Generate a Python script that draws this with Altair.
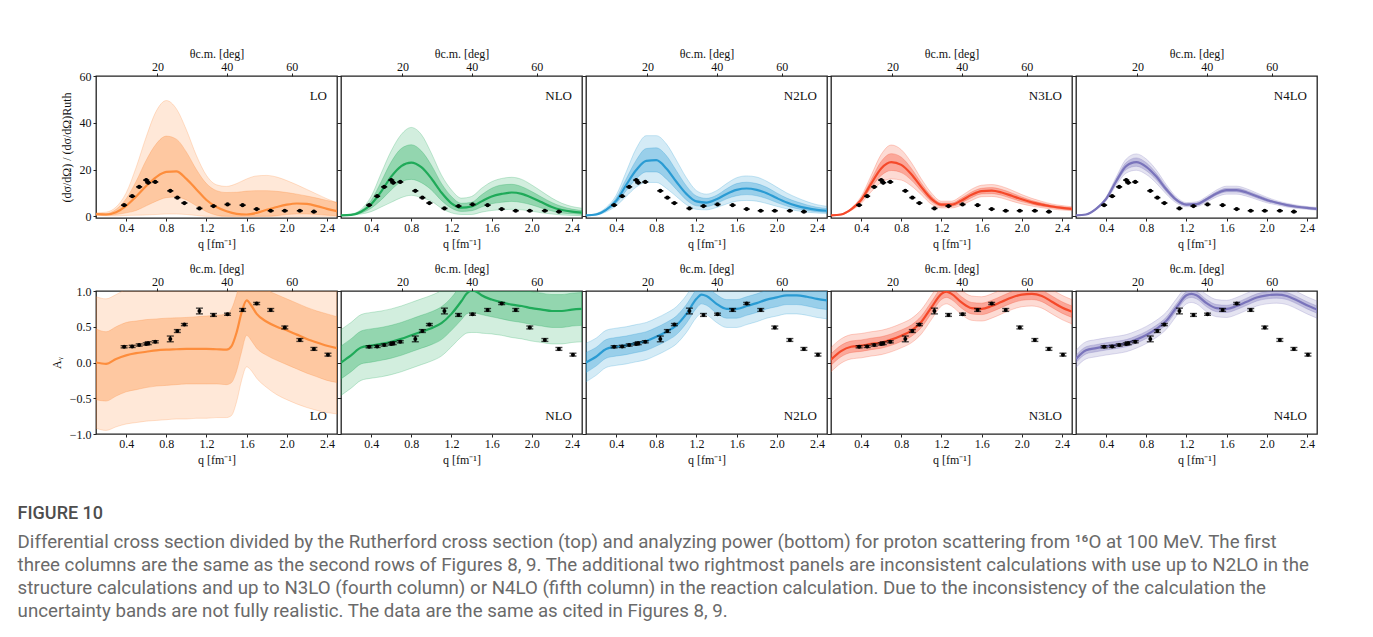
import math
import altair as alt
import pandas as pd

FONT = "Liberation Serif"
CAP_FONT = "Roboto"

# ---------------- q grid for the calculated curves ----------------
Q25 = [0.1, 0.2, 0.3, 0.4, 0.5, 0.6, 0.7, 0.8, 0.9, 1.0, 1.1, 1.2, 1.3,
       1.4, 1.5, 1.6, 1.7, 1.8, 1.9, 2.0, 2.1, 2.2, 2.3, 2.4, 2.5]

# ---------------- cross section ratio (top row) ----------------
lo_xs_c = [1.0, 0.8, 1.8, 4.5, 8.5, 13.0, 16.8, 19.0, 19.2, 16.0, 11.5, 7.0, 4.0, 2.2, 1.1, 0.8, 1.5, 2.8, 4.0, 5.0, 5.5, 5.3, 4.4, 3.2, 2.2]
lo_xs_ih = [1.2, 1.2, 3.0, 7.5, 15.0, 24.0, 31.0, 34.3, 33.0, 27.5, 20.0, 14.0, 11.0, 10.2, 10.3, 10.8, 11.0, 11.0, 10.7, 10.2, 9.5, 8.7, 7.8, 6.8, 6.0]
lo_xs_il = [0.8, 0.5, 0.8, 1.5, 2.5, 4.5, 6.5, 8.0, 8.3, 7.0, 4.5, 2.0, 0.5, 0.0, 0.0, 0.0, 0.0, 0.0, 0.3, 0.8, 1.0, 1.0, 0.8, 0.5, 0.3]
lo_xs_oh = [1.5, 1.8, 4.0, 10.0, 21.0, 34.0, 45.0, 49.5, 46.0, 37.0, 26.0, 17.5, 13.5, 12.8, 14.0, 16.0, 17.3, 17.5, 16.8, 15.3, 13.5, 11.5, 9.5, 7.5, 5.8]
lo_xs_ol = [0.5, 0.3, 0.2, 0.4, 0.5, 0.6, 0.8, 1.0, 1.0, 0.8, 0.4, 0.0, 0.0, 0.0, 0.0, 0.0, 0.0, 0.0, 0.0, 0.0, 0.0, 0.0, 0.0, 0.0, 0.0]

nlo_xs_c = [0.4, 0.6, 2.0, 5.2, 10.6, 17.0, 21.5, 23.0, 21.0, 16.2, 10.2, 5.6, 3.7, 4.2, 6.4, 8.5, 9.6, 10.2, 9.6, 8.0, 6.0, 4.0, 2.7, 2.0, 1.6]
nlo_xs_ih = [0.45, 0.8, 2.5, 6.8, 14.8, 23.3, 29.0, 30.6, 28.0, 21.9, 14.1, 8.5, 5.6, 6.0, 9.2, 12.0, 13.4, 13.7, 12.7, 10.6, 8.2, 5.9, 4.2, 3.1, 2.5]
nlo_xs_il = [0.35, 0.5, 1.4, 3.5, 7.0, 11.3, 14.8, 15.8, 14.4, 11.3, 6.8, 3.5, 2.1, 2.4, 4.0, 5.4, 6.0, 6.4, 5.9, 4.9, 3.5, 2.3, 1.4, 1.1, 0.8]
nlo_xs_oh = [0.5, 0.9, 3.0, 8.5, 18.4, 28.0, 35.0, 38.0, 35.0, 27.0, 17.7, 11.3, 7.8, 8.5, 12.0, 14.8, 16.2, 16.7, 15.8, 13.4, 10.6, 7.8, 5.6, 4.2, 3.5]
nlo_xs_ol = [0.3, 0.5, 1.0, 2.0, 4.0, 6.0, 8.0, 9.0, 8.0, 6.5, 3.5, 1.5, 0.8, 0.8, 1.8, 2.5, 2.8, 3.0, 2.8, 2.2, 1.5, 1.0, 0.6, 0.4, 0.3]

n2lo_xs_c = [0.4, 0.8, 2.8, 6.6, 13.4, 19.8, 23.7, 24.0, 20.5, 14.8, 9.6, 6.4, 5.9, 7.3, 9.6, 11.3, 11.9, 11.3, 9.9, 7.8, 5.9, 4.5, 3.5, 2.8, 2.4]
n2lo_xs_ih = [0.4, 1.0, 3.2, 7.8, 16.0, 24.0, 29.0, 29.3, 26.0, 19.5, 13.0, 8.7, 7.7, 9.0, 11.8, 14.0, 14.6, 14.0, 12.4, 10.0, 7.8, 6.2, 4.9, 3.9, 3.4]
n2lo_xs_il = [0.3, 0.7, 2.4, 5.5, 11.0, 16.0, 19.0, 19.0, 16.0, 11.5, 7.0, 4.5, 4.2, 5.5, 7.5, 8.8, 9.3, 8.8, 7.6, 5.9, 4.4, 3.3, 2.5, 2.0, 1.7]
n2lo_xs_oh = [0.5, 1.2, 3.8, 9.0, 19.0, 29.0, 34.5, 34.5, 31.0, 24.0, 16.5, 11.0, 9.5, 11.0, 14.0, 16.5, 17.3, 16.8, 15.0, 12.5, 10.0, 8.0, 6.3, 5.0, 4.3]
n2lo_xs_ol = [0.2, 0.5, 1.9, 4.5, 8.5, 12.5, 14.5, 14.5, 12.0, 8.5, 5.0, 3.0, 2.8, 3.8, 5.3, 6.5, 6.8, 6.5, 5.5, 4.3, 3.2, 2.4, 1.8, 1.4, 1.2]

n3lo_xs_c = [0.4, 0.8, 3.0, 7.0, 14.0, 20.5, 23.2, 22.0, 18.0, 12.5, 7.5, 5.0, 5.0, 6.8, 9.2, 10.8, 11.0, 10.2, 8.8, 7.3, 6.0, 5.0, 4.2, 3.6, 3.2]
n3lo_xs_ih = [0.45, 0.9, 3.2, 7.7, 15.7, 23.5, 26.8, 25.3, 20.5, 14.2, 8.7, 5.7, 5.7, 7.8, 10.4, 12.0, 12.3, 11.5, 10.0, 8.3, 6.8, 5.7, 4.7, 4.1, 3.6]
n3lo_xs_il = [0.35, 0.7, 2.8, 6.3, 12.3, 17.5, 19.6, 18.7, 15.5, 10.8, 6.3, 4.3, 4.3, 5.8, 8.0, 9.6, 9.7, 9.0, 7.6, 6.3, 5.2, 4.3, 3.7, 3.1, 2.8]
n3lo_xs_oh = [0.5, 1.0, 3.5, 8.5, 17.5, 26.5, 30.5, 28.5, 23.0, 16.0, 10.0, 6.5, 6.5, 8.8, 11.6, 13.3, 13.6, 12.8, 11.2, 9.3, 7.7, 6.4, 5.3, 4.6, 4.1]
n3lo_xs_ol = [0.3, 0.6, 2.5, 5.5, 10.5, 14.5, 16.0, 15.5, 13.0, 9.2, 5.2, 3.6, 3.6, 4.8, 6.8, 8.4, 8.5, 7.8, 6.5, 5.3, 4.4, 3.7, 3.1, 2.7, 2.4]

n4lo_xs_c = [0.4, 0.8, 3.2, 7.5, 15.0, 21.5, 23.2, 21.2, 17.0, 11.5, 7.0, 5.0, 5.2, 7.3, 9.8, 11.2, 11.2, 10.2, 8.6, 7.0, 5.8, 4.8, 4.1, 3.6, 3.2]
n4lo_xs_ih = [0.42, 0.85, 3.4, 7.9, 15.9, 23.0, 25.0, 22.9, 18.4, 12.5, 7.6, 5.4, 5.7, 7.9, 10.5, 12.0, 12.0, 11.0, 9.3, 7.6, 6.2, 5.2, 4.4, 3.9, 3.5]
n4lo_xs_il = [0.38, 0.75, 3.0, 7.1, 14.1, 20.0, 21.4, 19.5, 15.6, 10.5, 6.4, 4.6, 4.7, 6.7, 9.1, 10.4, 10.4, 9.4, 7.9, 6.4, 5.4, 4.4, 3.8, 3.3, 2.9]
n4lo_xs_oh = [0.45, 0.9, 3.6, 8.3, 16.8, 24.5, 26.7, 24.5, 19.8, 13.5, 8.3, 5.9, 6.2, 8.5, 11.3, 12.9, 12.9, 11.8, 10.0, 8.2, 6.7, 5.6, 4.8, 4.2, 3.8]
n4lo_xs_ol = [0.35, 0.7, 2.8, 6.7, 13.2, 18.5, 19.7, 17.9, 14.2, 9.5, 5.7, 4.1, 4.2, 6.1, 8.3, 9.5, 9.5, 8.6, 7.2, 5.8, 4.9, 4.0, 3.4, 3.0, 2.6]

# ---------------- analyzing power (bottom row) ----------------
lo_ay_q = [0.1, 0.2, 0.3, 0.4, 0.5, 0.6, 0.7, 0.8, 0.9, 1.0, 1.1, 1.2, 1.3, 1.4, 1.45, 1.5, 1.55, 1.6, 1.65, 1.7, 1.8, 1.9, 2.0, 2.1, 2.2, 2.3, 2.4, 2.5]
lo_ay_c = [0.0, -0.02, 0.05, 0.10, 0.13, 0.15, 0.17, 0.18, 0.185, 0.19, 0.19, 0.19, 0.185, 0.18, 0.23, 0.42, 0.70, 0.87, 0.79, 0.68, 0.57, 0.50, 0.45, 0.39, 0.33, 0.28, 0.235, 0.20]
lo_ay_ih = [0.47, 0.43, 0.50, 0.56, 0.58, 0.60, 0.61, 0.62, 0.625, 0.63, 0.64, 0.65, 0.66, 0.68, 0.75, 0.95, 1.20, 1.30, 1.25, 1.15, 1.02, 0.95, 0.89, 0.83, 0.77, 0.72, 0.68, 0.64]
lo_ay_il = [-0.52, -0.54, -0.47, -0.41, -0.38, -0.35, -0.33, -0.32, -0.31, -0.30, -0.30, -0.30, -0.30, -0.31, -0.28, -0.12, 0.15, 0.38, 0.30, 0.20, 0.10, 0.03, -0.03, -0.09, -0.15, -0.20, -0.25, -0.28]
lo_ay_oh = [0.92, 0.89, 0.95, 1.02, 1.04, 1.06, 1.07, 1.08, 1.09, 1.10, 1.10, 1.10, 1.10, 1.12, 1.20, 1.40, 1.60, 1.75, 1.70, 1.60, 1.48, 1.40, 1.34, 1.28, 1.22, 1.17, 1.12, 1.08]
lo_ay_ol = [-0.92, -0.95, -0.90, -0.86, -0.84, -0.82, -0.81, -0.80, -0.79, -0.79, -0.78, -0.78, -0.77, -0.77, -0.74, -0.55, -0.25, -0.06, -0.12, -0.22, -0.35, -0.45, -0.52, -0.58, -0.63, -0.67, -0.70, -0.72]

nlo_ay_q = [0.1, 0.2, 0.3, 0.4, 0.5, 0.6, 0.7, 0.8, 0.9, 1.0, 1.1, 1.2, 1.3, 1.35, 1.4, 1.45, 1.5, 1.6, 1.7, 1.8, 1.9, 2.0, 2.1, 2.2, 2.3, 2.4, 2.5]
nlo_ay_c = [0.0, 0.10, 0.21, 0.235, 0.26, 0.29, 0.33, 0.38, 0.43, 0.48, 0.55, 0.68, 0.86, 0.96, 1.01, 0.99, 0.94, 0.88, 0.84, 0.81, 0.79, 0.76, 0.74, 0.72, 0.72, 0.74, 0.75]
nlo_ay_ih = [0.23, 0.33, 0.44, 0.47, 0.49, 0.52, 0.56, 0.61, 0.66, 0.71, 0.78, 0.91, 1.10, 1.21, 1.27, 1.25, 1.19, 1.12, 1.07, 1.04, 1.02, 0.99, 0.97, 0.95, 0.95, 0.97, 0.98]
nlo_ay_il = [-0.23, -0.13, -0.02, 0.005, 0.03, 0.06, 0.10, 0.15, 0.20, 0.25, 0.32, 0.45, 0.60, 0.68, 0.70, 0.69, 0.67, 0.64, 0.61, 0.58, 0.56, 0.53, 0.51, 0.49, 0.49, 0.51, 0.52]
nlo_ay_oh = [0.46, 0.56, 0.67, 0.70, 0.72, 0.75, 0.79, 0.84, 0.89, 0.94, 1.01, 1.14, 1.34, 1.45, 1.52, 1.50, 1.44, 1.36, 1.30, 1.27, 1.25, 1.22, 1.20, 1.18, 1.18, 1.20, 1.21]
nlo_ay_ol = [-0.46, -0.36, -0.25, -0.22, -0.20, -0.17, -0.13, -0.08, -0.03, 0.02, 0.09, 0.22, 0.36, 0.41, 0.42, 0.42, 0.41, 0.40, 0.38, 0.35, 0.33, 0.30, 0.28, 0.26, 0.26, 0.28, 0.29]

Q26 = [0.1, 0.2, 0.3, 0.4, 0.5, 0.6, 0.7, 0.8, 0.9, 1.0, 1.1, 1.2, 1.25, 1.3, 1.4, 1.5, 1.6, 1.7, 1.8, 1.9, 2.0, 2.1, 2.2, 2.3, 2.4, 2.5]

n2lo_ay_c = [0.0, 0.08, 0.19, 0.22, 0.24, 0.27, 0.30, 0.36, 0.43, 0.52, 0.68, 0.89, 0.95, 0.93, 0.82, 0.75, 0.75, 0.79, 0.83, 0.88, 0.91, 0.94, 0.94, 0.92, 0.89, 0.87]
n2lo_ay_ih = [0.14, 0.21, 0.32, 0.35, 0.37, 0.40, 0.43, 0.49, 0.56, 0.65, 0.81, 1.02, 1.08, 1.06, 0.95, 0.88, 0.88, 0.92, 0.96, 1.01, 1.04, 1.07, 1.07, 1.05, 1.02, 1.00]
n2lo_ay_il = [-0.14, -0.05, 0.06, 0.09, 0.11, 0.14, 0.17, 0.23, 0.30, 0.39, 0.55, 0.76, 0.82, 0.80, 0.69, 0.62, 0.62, 0.66, 0.70, 0.75, 0.78, 0.81, 0.81, 0.79, 0.76, 0.74]
n2lo_ay_oh = [0.27, 0.34, 0.45, 0.48, 0.50, 0.53, 0.56, 0.62, 0.69, 0.78, 0.94, 1.15, 1.21, 1.19, 1.08, 1.01, 1.01, 1.05, 1.09, 1.14, 1.17, 1.20, 1.20, 1.18, 1.15, 1.13]
n2lo_ay_ol = [-0.27, -0.18, -0.07, -0.04, -0.02, 0.01, 0.04, 0.10, 0.17, 0.26, 0.42, 0.63, 0.69, 0.67, 0.56, 0.49, 0.49, 0.53, 0.57, 0.62, 0.65, 0.68, 0.68, 0.66, 0.63, 0.61]

n3lo_ay_c = [0.04, 0.16, 0.22, 0.235, 0.26, 0.28, 0.32, 0.375, 0.445, 0.57, 0.77, 0.96, 0.99, 0.96, 0.84, 0.76, 0.75, 0.79, 0.85, 0.91, 0.95, 0.96, 0.93, 0.85, 0.77, 0.71]
n3lo_ay_ih = [0.12, 0.24, 0.30, 0.315, 0.34, 0.36, 0.40, 0.455, 0.525, 0.65, 0.85, 1.04, 1.07, 1.04, 0.92, 0.84, 0.83, 0.87, 0.93, 0.99, 1.03, 1.04, 1.01, 0.93, 0.85, 0.79]
n3lo_ay_il = [-0.04, 0.08, 0.14, 0.155, 0.18, 0.20, 0.24, 0.295, 0.365, 0.49, 0.69, 0.88, 0.91, 0.88, 0.76, 0.68, 0.67, 0.71, 0.77, 0.83, 0.87, 0.88, 0.85, 0.77, 0.69, 0.63]
n3lo_ay_oh = [0.21, 0.33, 0.39, 0.405, 0.43, 0.45, 0.49, 0.545, 0.615, 0.74, 0.94, 1.13, 1.16, 1.13, 1.01, 0.93, 0.92, 0.96, 1.02, 1.08, 1.12, 1.13, 1.10, 1.02, 0.94, 0.88]
n3lo_ay_ol = [-0.13, -0.01, 0.05, 0.065, 0.09, 0.11, 0.15, 0.205, 0.275, 0.40, 0.60, 0.79, 0.82, 0.79, 0.67, 0.59, 0.58, 0.62, 0.68, 0.74, 0.78, 0.79, 0.76, 0.68, 0.60, 0.54]

n4lo_ay_c = [0.05, 0.17, 0.20, 0.225, 0.245, 0.27, 0.32, 0.385, 0.47, 0.585, 0.77, 0.94, 0.96, 0.94, 0.83, 0.76, 0.75, 0.79, 0.85, 0.91, 0.94, 0.95, 0.93, 0.87, 0.80, 0.74]
n4lo_ay_ih = [0.10, 0.22, 0.25, 0.275, 0.295, 0.32, 0.37, 0.435, 0.52, 0.635, 0.82, 0.99, 1.01, 0.99, 0.88, 0.81, 0.80, 0.84, 0.90, 0.96, 0.99, 1.00, 0.98, 0.92, 0.85, 0.79]
n4lo_ay_il = [0.00, 0.12, 0.15, 0.175, 0.195, 0.22, 0.27, 0.335, 0.42, 0.535, 0.72, 0.89, 0.91, 0.89, 0.78, 0.71, 0.70, 0.74, 0.80, 0.86, 0.89, 0.90, 0.88, 0.82, 0.75, 0.69]
n4lo_ay_oh = [0.17, 0.29, 0.32, 0.345, 0.365, 0.39, 0.44, 0.505, 0.59, 0.705, 0.89, 1.06, 1.08, 1.06, 0.95, 0.88, 0.87, 0.91, 0.97, 1.03, 1.06, 1.07, 1.05, 0.99, 0.92, 0.86]
n4lo_ay_ol = [-0.07, 0.05, 0.08, 0.105, 0.125, 0.15, 0.20, 0.265, 0.35, 0.465, 0.65, 0.82, 0.84, 0.82, 0.71, 0.64, 0.63, 0.67, 0.73, 0.79, 0.82, 0.83, 0.81, 0.75, 0.68, 0.62]

# ---------------- experimental data ----------------
data_q = [0.38, 0.46, 0.53, 0.60, 0.62, 0.69, 0.84, 0.91, 0.98, 1.13, 1.27, 1.41, 1.56, 1.70, 1.84, 1.98, 2.13, 2.27, 2.41]
xs_vals = [4.8, 8.6, 12.6, 15.5, 14.4, 14.7, 10.9, 8.0, 5.7, 3.4, 4.4, 5.1, 4.8, 3.1, 2.4, 2.4, 2.4, 2.0]
xs_qerr = [0.03, 0.03, 0.03, 0.03, 0.03, 0.03, 0.03, 0.03, 0.03, 0.03, 0.03, 0.03, 0.03, 0.03, 0.03, 0.03, 0.03, 0.03]
xs_err = [0.6, 0.6, 0.7, 0.8, 0.8, 0.7, 0.6, 0.5, 0.4, 0.3, 0.3, 0.3, 0.3, 0.3, 0.3, 0.3, 0.3, 0.3]
ay_vals = [0.22, 0.225, 0.245, 0.26, 0.27, 0.29, 0.33, 0.44, 0.53, 0.72, 0.665, 0.675, 0.735, 0.825, 0.735, 0.49, 0.315, 0.19, 0.11]
ay_err = [0.015, 0.015, 0.015, 0.015, 0.02, 0.015, 0.04, 0.02, 0.015, 0.04, 0.02, 0.015, 0.02, 0.015, 0.02, 0.02, 0.02, 0.02, 0.02]

# ---------------- labels / styling ----------------
orders = ["LO", "NLO", "N2LO", "N3LO", "N4LO"]
colors = ["#fd8d3c", "#1faa59", "#2a9bd3", "#f5492a", "#7a74bb"]
q_ticks = [0.4, 0.8, 1.2, 1.6, 2.0, 2.4]
theta_ticks = [20, 40, 60]
theta_q = [4.1 * math.sin(math.radians(t / 2.0)) for t in theta_ticks]

caption_head = "FIGURE 10"
caption_lines = [
    "Differential cross section divided by the Rutherford cross section (top) and analyzing power (bottom) for proton scattering from \u00b9\u2076O at 100 MeV. The first",
    "three columns are the same as the second rows of Figures 8, 9. The additional two rightmost panels are inconsistent calculations with use up to N2LO in the",
    "structure calculations and up to N3LO (fourth column) or N4LO (fifth column) in the reaction calculation. Due to the inconsistency of the calculation the",
    "uncertainty bands are not fully realistic. The data are the same as cited in Figures 8, 9.",
]

xs_sets = [
    (Q25, lo_xs_c, lo_xs_il, lo_xs_ih, lo_xs_ol, lo_xs_oh),
    (Q25, nlo_xs_c, nlo_xs_il, nlo_xs_ih, nlo_xs_ol, nlo_xs_oh),
    (Q25, n2lo_xs_c, n2lo_xs_il, n2lo_xs_ih, n2lo_xs_ol, n2lo_xs_oh),
    (Q25, n3lo_xs_c, n3lo_xs_il, n3lo_xs_ih, n3lo_xs_ol, n3lo_xs_oh),
    (Q25, n4lo_xs_c, n4lo_xs_il, n4lo_xs_ih, n4lo_xs_ol, n4lo_xs_oh),
]
ay_sets = [
    (lo_ay_q, lo_ay_c, lo_ay_il, lo_ay_ih, lo_ay_ol, lo_ay_oh),
    (nlo_ay_q, nlo_ay_c, nlo_ay_il, nlo_ay_ih, nlo_ay_ol, nlo_ay_oh),
    (Q26, n2lo_ay_c, n2lo_ay_il, n2lo_ay_ih, n2lo_ay_ol, n2lo_ay_oh),
    (Q26, n3lo_ay_c, n3lo_ay_il, n3lo_ay_ih, n3lo_ay_ol, n3lo_ay_oh),
    (Q26, n4lo_ay_c, n4lo_ay_il, n4lo_ay_ih, n4lo_ay_ol, n4lo_ay_oh),
]

xs_df = pd.DataFrame({"q": data_q[:len(xs_vals)], "v": xs_vals})
xs_df["qlo"] = xs_df["q"] - pd.Series(xs_qerr)
xs_df["qhi"] = xs_df["q"] + pd.Series(xs_qerr)
xs_df["vlo"] = xs_df["v"] - pd.Series(xs_err)
xs_df["vhi"] = xs_df["v"] + pd.Series(xs_err)

ay_df = pd.DataFrame({"q": data_q, "v": ay_vals})
ay_df["vlo"] = ay_df["v"] - pd.Series(ay_err)
ay_df["vhi"] = ay_df["v"] + pd.Series(ay_err)

XSCALE = alt.Scale(domain=[0.1, 2.5], nice=False, zero=False)


def panel(curve, color, label, kind, first, width, height):
    q, c, il, ih, ol, oh = curve
    df = pd.DataFrame({"q": q, "c": c, "il": il, "ih": ih, "ol": ol, "oh": oh})
    if kind == "xs":
        ys = alt.Scale(domain=[-0.7, 60], nice=False, zero=False)
        yvals, yfmt = [0, 20, 40, 60], "d"
        ytitle = "(d\u03c3/d\u03a9) / (d\u03c3/d\u03a9)Ruth"
    else:
        ys = alt.Scale(domain=[-1, 1], nice=False, zero=False)
        yvals, yfmt = [-1.0, -0.5, 0.0, 0.5, 1.0], ".1f"
        ytitle = "A\u1d67"
    if first:
        yaxis = alt.Axis(values=yvals, format=yfmt, title=ytitle, tickSize=3,
                         labelPadding=2, titlePadding=6)
    else:
        yaxis = alt.Axis(values=yvals, labels=False, title=None, tickSize=4)
    xaxis = alt.Axis(values=q_ticks, format=".1f", title="q [fm\u207b\u00b9]",
                     tickSize=3, labelPadding=1, titlePadding=5)
    taxis = alt.Axis(orient="top", values=theta_q, tickSize=3, labelPadding=0,
                     labelExpr="format(2*asin(datum.value/4.1)*180/PI, '.0f')",
                     title="\u03b8c.m. [deg]", titlePadding=0)

    def X(field, axis=None):
        return alt.X(field, type="quantitative", scale=XSCALE, axis=axis)

    def Y(field):
        return alt.Y(field, type="quantitative", scale=ys, axis=yaxis)

    base = alt.Chart(df)
    outer = base.mark_area(color=color, fillOpacity=0.2, stroke=color,
                           strokeOpacity=0.35, strokeWidth=0.7,
                           interpolate="monotone", clip=True).encode(
        x=X("q", xaxis), y=Y("ol"), y2="oh:Q")
    inner = base.mark_area(color=color, fillOpacity=0.35, stroke=color,
                           strokeOpacity=0.4, strokeWidth=0.7,
                           interpolate="monotone", clip=True).encode(
        x=X("q"), y=Y("il"), y2="ih:Q")
    line = base.mark_line(color=color, strokeWidth=2.2, interpolate="monotone",
                          clip=True).encode(x=X("q"), y=Y("c"))
    top = base.mark_line(opacity=0).encode(x=X("q", taxis), y=Y("c"))

    layers = [outer, inner, line]
    if kind == "xs":
        pts = alt.Chart(xs_df)
        layers += [
            pts.mark_rule(color="black", strokeWidth=1.6).encode(
                x=X("qlo"), x2="qhi:Q", y=Y("v")),
            pts.mark_rule(color="black", strokeWidth=1.2).encode(
                x=X("q"), y=Y("vlo"), y2="vhi:Q"),
            pts.mark_circle(color="black", size=18, opacity=1).encode(
                x=X("q"), y=Y("v")),
        ]
        ly = 20
    else:
        pts = alt.Chart(ay_df)
        layers += [
            pts.mark_rule(color="black", strokeWidth=1.4).encode(
                x=X("q"), y=Y("vlo"), y2="vhi:Q"),
            pts.mark_tick(color="black", orient="horizontal", size=7,
                          thickness=1.4).encode(x=X("q"), y=Y("vlo")),
            pts.mark_tick(color="black", orient="horizontal", size=7,
                          thickness=1.4).encode(x=X("q"), y=Y("vhi")),
            pts.mark_circle(color="black", size=16, opacity=1).encode(
                x=X("q"), y=Y("v")),
        ]
        ly = height - 18
    lab = alt.Chart(pd.DataFrame({"t": [label]})).mark_text(
        font=FONT, fontSize=13, align="right", baseline="middle",
        color="#111").encode(x=alt.value(width - 10), y=alt.value(ly),
                             text="t:N")
    layers += [lab, top]
    return alt.layer(*layers).resolve_axis(x="independent").properties(
        width=width, height=height)


top_row = alt.hconcat(*[
    panel(xs_sets[i], colors[i], orders[i], "xs", i == 0, 241, 142)
    for i in range(5)], spacing=4, bounds="flush")
bottom_row = alt.hconcat(*[
    panel(ay_sets[i], colors[i], orders[i], "ay", i == 0, 241, 143)
    for i in range(5)], spacing=4, bounds="flush")

chart = alt.vconcat(top_row, bottom_row, spacing=11).properties(
    title=alt.TitleParams(
        text=caption_head, subtitle=caption_lines, orient="bottom",
        anchor="start", dx=-32, offset=39, font=CAP_FONT, fontSize=18,
        fontWeight=500, color="#4d4d4d", subtitleFont=CAP_FONT,
        subtitleFontSize=18.7, subtitleColor="#6a6a6a", subtitleLineHeight=23,
        subtitlePadding=10),
    padding={"left": 17, "top": 46, "right": 10, "bottom": 10},
).configure_axis(
    labelFont=FONT, titleFont=FONT, labelFontSize=12, titleFontSize=12,
    labelColor="#111", titleColor="#111", tickColor="#222", domain=False,
    grid=False, titleFontWeight="normal",
).configure_view(stroke="#222", strokeWidth=1.3)

chart.save("out.html", embed_options={"renderer": "svg", "actions": False})
